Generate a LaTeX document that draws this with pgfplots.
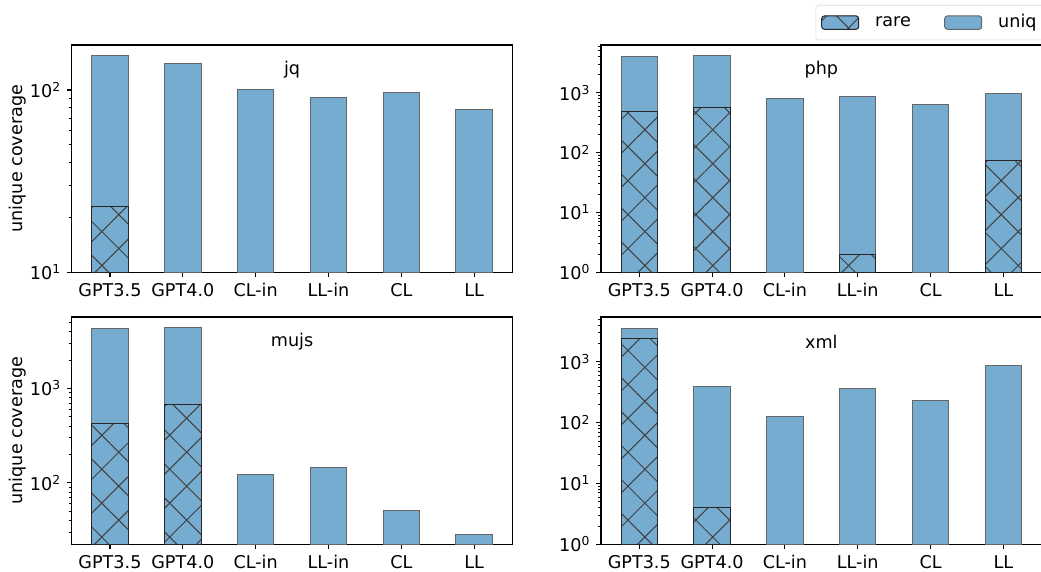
\documentclass[border=0pt]{standalone}
\usepackage{fontspec}
\setmainfont{DejaVu Sans}
\usepackage{pgfplots}
\pgfplotsset{compat=1.18}
\usetikzlibrary{patterns.meta}
\definecolor{barblue}{RGB}{118,172,208}
\tikzset{
  uniqbar/.style={fill=barblue, draw=black!60, line width=0.75pt},
  rarebar/.style={pattern={Hatch[angle=45,distance=18pt,line width=0.75pt]}, pattern color=black!75, draw=black!85, line width=0.75pt},
}
\pgfplotsset{
  myax/.style={
    scale only axis, width=330.5pt, height=170.5pt,
    anchor=south west,
    log origin=infty,
    xmin=-0.525, xmax=5.525,
    xtick={0,1,2,3,4,5}, xticklabels={GPT3.5,GPT4.0,CL-in,LL-in,CL,LL},
    tick pos=left, tick align=outside,
    major tick length=3.6pt, minor tick length=2.1pt,
    tick style={black, line width=0.8pt},
    minor tick style={black, line width=0.6pt},
    axis line style={line width=0.8pt},
    ybar, bar width=0.5,
    title style={at={(axis description cs:0.5,0.855)}, anchor=center},
    every axis y label/.style={at={(axis description cs:-0.122,0.5)}, rotate=90, anchor=center},
  },
}
\begin{document}
\fontsize{13.2}{16}\selectfont
\begin{tikzpicture}
% jq
\begin{semilogyaxis}[myax, at={(53.8pt,224pt)}, ymin=10, ymax=176.5,
  ytick={10,100}, yticklabels={10\textsuperscript{1},10\textsuperscript{2}},
  minor ytick={20,30,40,50,60,70,80,90},
  ylabel={unique coverage}, title={jq}]
\addplot[uniqbar, bar shift=0pt, forget plot] coordinates {(0,153.6) (1,140) (2,100) (3,91.2) (4,97.1) (5,78)};
\addplot[rarebar, bar shift=0pt, forget plot] coordinates {(0,23.1)};
\end{semilogyaxis}
% php
\begin{semilogyaxis}[myax, at={(450.75pt,224pt)}, ymin=1, ymax=6270,
  ytick={1,10,100,1000}, yticklabels={10\textsuperscript{0},10\textsuperscript{1},10\textsuperscript{2},10\textsuperscript{3}},
  minor ytick={2,3,4,5,6,7,8,9,20,30,40,50,60,70,80,90,200,300,400,500,600,700,800,900,2000,3000,4000,5000,6000},
  title={php},
  legend columns=2,
  legend style={at={(axis description cs:0.487,1.176)}, anchor=north west,
    draw=black!15, rounded corners=2pt, inner xsep=4pt, inner ysep=5pt,
    /tikz/every odd column/.append style={column sep=10pt},
    /tikz/every even column/.append style={column sep=23pt}}]
\addlegendimage{legend image code/.code={\fill[barblue] (0pt,-5pt) rectangle (27.75pt,5pt); \draw[rarebar] (0pt,-5pt) rectangle (27.75pt,5pt);}}
\addlegendentry{rare}
\addlegendimage{legend image code/.code={\draw[uniqbar] (0pt,-5pt) rectangle (27.75pt,5pt);}}
\addlegendentry{uniq}
\addplot[uniqbar, bar shift=0pt, forget plot] coordinates {(0,4010) (1,4170) (2,803) (3,879) (4,637) (5,985)};
\addplot[rarebar, bar shift=0pt, forget plot] coordinates {(0,481) (1,561) (3,2) (5,75)};
\end{semilogyaxis}
% mujs
\begin{semilogyaxis}[myax, at={(53.8pt,20pt)}, ymin=22.4, ymax=5690,
  ytick={100,1000}, yticklabels={10\textsuperscript{2},10\textsuperscript{3}},
  minor ytick={30,40,50,60,70,80,90,200,300,400,500,600,700,800,900,2000,3000,4000,5000},
  ylabel={unique coverage}, title={mujs}]
\addplot[uniqbar, bar shift=0pt, forget plot] coordinates {(0,4276) (1,4460) (2,123) (3,145) (4,50.7) (5,28.6)};
\addplot[rarebar, bar shift=0pt, forget plot] coordinates {(0,420) (1,670)};
\end{semilogyaxis}
% xml
\begin{semilogyaxis}[myax, at={(450.75pt,20pt)}, ymin=1, ymax=5430,
  ytick={1,10,100,1000}, yticklabels={10\textsuperscript{0},10\textsuperscript{1},10\textsuperscript{2},10\textsuperscript{3}},
  minor ytick={2,3,4,5,6,7,8,9,20,30,40,50,60,70,80,90,200,300,400,500,600,700,800,900,2000,3000,4000,5000},
  title={xml}]
\addplot[uniqbar, bar shift=0pt, forget plot] coordinates {(0,3580) (1,388) (2,126) (3,363) (4,230) (5,859)};
\addplot[rarebar, bar shift=0pt, forget plot] coordinates {(0,2450) (1,4.0)};
\end{semilogyaxis}
\pgfresetboundingbox
\useasboundingbox (0,0) rectangle (780.75pt,428.25pt);
\end{tikzpicture}
\end{document}
